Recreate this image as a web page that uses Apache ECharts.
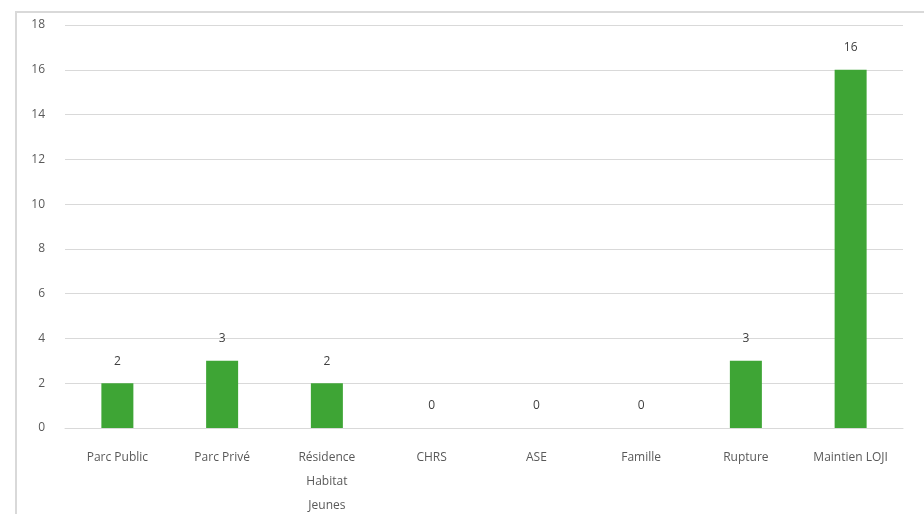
<!DOCTYPE html>
<html><head><meta charset="utf-8">
<script src="https://cdn.jsdelivr.net/npm/echarts@6/dist/echarts.min.js"></script>
<style>html,body{margin:0;padding:0;background:#fff}#c{width:924px;height:514px}</style>
</head><body><div id="c"></div>
<script>
const categories = ['Parc Public','Parc Privé','Résidence\nHabitat\nJeunes','CHRS','ASE','Famille','Rupture','Maintien LOJI'];
const values = [2,3,2,0,0,0,3,16];
const yTicks = {min:0, max:18, interval:2};

const chart = echarts.init(document.getElementById('c'));
chart.setOption({
  animation:false,
  graphic:[{type:'polyline',shape:{points:[[16,514],[16,12],[924,12]]},style:{stroke:'#d9d9d9',lineWidth:2,fill:null}}],
  grid:{left:65,right:21,top:25,bottom:86,containLabel:false,outerBoundsMode:'none'},
  xAxis:{type:'category',data:categories,
    axisLine:{lineStyle:{color:'#d9d9d9'}},axisTick:{show:false},
    axisLabel:{color:'#595959',fontFamily:'Open Sans',fontSize:12,margin:18,lineHeight:24,interval:0}},
  yAxis:{type:'value',min:yTicks.min,max:yTicks.max,interval:yTicks.interval,
    axisLine:{show:false},axisTick:{show:false},
    splitLine:{lineStyle:{color:'#d9d9d9'}},
    axisLabel:{color:'#595959',fontFamily:'Open Sans',fontSize:12,margin:20}},
  series:[{type:'bar',data:values,barWidth:32,itemStyle:{color:'#3ea535'},
    label:{show:true,position:'top',distance:16,color:'#404040',fontFamily:'Open Sans',fontSize:12}}]
});
</script></body></html>
